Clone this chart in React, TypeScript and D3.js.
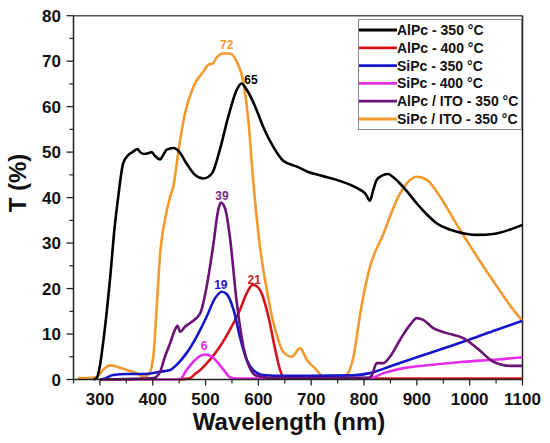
import { useEffect } from 'react'
import * as d3 from 'd3'

type Pt = [number, number]

// wavelength (nm), transmittance (%)
const alpc350: Pt[] = [
  [288, 0], [294, 0.3], [300, 3], [306, 8], [313, 15], [319, 21.9], [328, 33.6], [335, 40.5], [344, 47.5],
  [354, 49.4], [363, 50.1], [371, 50.7], [376, 50], [384, 49.6], [390, 49.7], [398, 50], [404, 49.2],
  [414, 48.4], [420, 49.4], [426, 50.5], [439, 50.9], [450, 50.1], [464, 47.5], [480, 45], [496, 44.2],
  [512, 45.3], [527, 50.5], [543, 57.8], [559, 63.7], [568, 65.1], [578, 63.7], [594, 60], [609, 55.6],
  [628, 51.2], [647, 48.1], [673, 46.8], [693, 45.7], [720, 44.8], [748, 43.9], [772, 42.9], [793, 41.7],
  [803, 40.8], [811, 39.3], [817, 41.5], [824, 43.9], [835, 44.9], [846, 45.2], [856, 44.4], [868, 43.1],
  [884, 41], [900, 38.7], [918, 36.4], [938, 34.3], [957, 33.2], [976, 32.5], [995, 32], [1014, 31.8],
  [1045, 32], [1077, 33], [1100, 34],
]
const alpc400: Pt[] = [
  [450, 0], [471, 0.3], [480, 1.2], [490, 2.1], [508, 4.3], [527, 7.2], [546, 10.9], [565, 15.3],
  [578, 19], [589, 20.8], [594, 20.7], [606, 19], [619, 13.8], [632, 6.5], [641, 2.1], [647, 0.6],
  [660, 0.2], [800, 0.2], [1100, 0.2],
]
const sipc350: Pt[] = [
  [300, 0], [306, 0.1], [325, 1], [351, 1.2], [382, 1.2], [414, 1.7], [433, 2.1], [445, 3.2],
  [464, 5.8], [483, 9.4], [502, 13.8], [518, 17.9], [531, 19.3], [540, 18.8], [553, 15.3], [565, 9.4],
  [578, 4.3], [590, 2.1], [609, 1], [650, 0.8], [700, 0.8], [780, 0.9], [811, 1.4], [850, 2.9],
  [900, 4.9], [957, 7.1], [1000, 8.8], [1050, 10.9], [1100, 12.9],
]
const sipc400: Pt[] = [
  [300, 0], [440, 0], [452, 0.1], [464, 2.1], [477, 3.9], [490, 5.2], [499, 5.5], [512, 5], [524, 3.6],
  [537, 1.7], [546, 0.5], [560, 0.2], [700, 0.2], [811, 0.3], [837, 1.4], [875, 2.5], [926, 3.2],
  [988, 3.9], [1052, 4.4], [1100, 4.9],
]
const alpcIto: Pt[] = [
  [300, 0], [380, 0.2], [401, 0.3], [414, 1.7], [423, 5], [433, 8], [442, 10.9], [447, 11.8],
  [452, 10.5], [461, 11.6], [474, 12.7], [490, 14.6], [502, 20.4], [515, 29.9], [524, 37.3], [529, 38.9],
  [537, 37.6], [546, 31.4], [559, 17], [572, 7], [584, 2.5], [597, 0.8], [620, 0.4], [700, 0.3],
  [810, 0.4], [815, 1], [824, 3.6], [837, 3.6], [849, 5], [868, 8.7], [887, 12], [900, 13.5],
  [912, 13.1], [931, 11.3], [957, 10.2], [988, 9.1], [1014, 6.9], [1045, 3.9], [1077, 3], [1100, 3],
]
const sipcIto: Pt[] = [
  [258, 0.3], [280, 0.3], [294, 0.6], [306, 2.1], [319, 3.1], [332, 2.8], [351, 2.1], [370, 1.4],
  [382, 0.6], [392, 1], [401, 5], [408, 16.8], [414, 27.7], [423, 35], [433, 40.2], [439, 42.5],
  [449, 50.5], [461, 58.5], [477, 64.4], [496, 67.7], [505, 69.2], [514, 69.5], [521, 70.8], [534, 71.7],
  [546, 71.7], [559, 69.9], [572, 65.1], [581, 57], [590, 44], [603, 29.2], [616, 19.7], [632, 10.9],
  [647, 6.1], [663, 5], [679, 6.9], [692, 4.3], [707, 2.5], [723, 0.6], [748, 0.3], [767, 1],
  [780, 5], [793, 14.6], [808, 23.4], [837, 32.1], [868, 40.9], [900, 44.6], [919, 43.9], [944, 40.2],
  [976, 34], [1014, 27], [1052, 20.4], [1083, 15.3], [1100, 12.9],
]

const seriesNames = [
  'AlPc - 350 °C',
  'AlPc - 400 °C',
  'SiPc - 350 °C',
  'SiPc - 400 °C',
  'AlPc / ITO - 350 °C',
  'SiPc / ITO - 350 °C',
]
const seriesData = [alpc350, alpc400, sipc350, sipc400, alpcIto, sipcIto]
const seriesColors = ['#000000', '#d3141c', '#1515cc', '#e62ce6', '#6a1276', '#f29a2e']
// draw order: last on top
const drawOrder = [5, 0, 1, 3, 2, 4]

// peak labels: text, wavelength, T, colour
const peakText = ['72', '65', '39', '19', '21', '6']
const peakPos: Pt[] = [[540, 72.6], [586, 65], [531, 39.5], [529, 20], [592, 21.1], [497, 6.4]]
const peakColors = ['#f29a2e', '#000000', '#7d2a8c', '#1515cc', '#c8232a', '#e62ce6']

const xMajor = [300, 400, 500, 600, 700, 800, 900, 1000, 1100]
const xMinor = [250, 350, 450, 550, 650, 750, 850, 950, 1050]
const yMajor = [0, 10, 20, 30, 40, 50, 60, 70, 80]
const yMinor = [5, 15, 25, 35, 45, 55, 65, 75]

const W = 550
const H = 443
const font = '"Liberation Sans", Arial, sans-serif'

export default function App() {
  useEffect(() => {
    document.body.style.margin = '0'
  }, [])

  const left = 73.5
  const right = 522.5
  const top = 15.7
  const bottom = 379.5
  const x = d3.scaleLinear().domain([250, 1100]).range([left, right])
  const y = d3.scaleLinear().domain([0, 80]).range([bottom, top])
  const line = d3
    .line<Pt>()
    .x((d) => x(d[0]))
    .y((d) => y(d[1]))
    .curve(d3.curveMonotoneX)

  return (
    <svg width={W} height={H} style={{ display: 'block', background: '#fff', fontFamily: font }}>
      {/* frame */}
      <line x1={left} x2={right} y1={top} y2={top} stroke="#555" strokeWidth={1.5} />
      <line x1={right} x2={right} y1={top} y2={bottom} stroke="#222" strokeWidth={1.5} />

      {/* curves */}
      {drawOrder.map((i) => (
        <path
          key={seriesNames[i]}
          d={line(seriesData[i]) || ''}
          fill="none"
          stroke={seriesColors[i]}
          strokeWidth={2.6}
          strokeLinejoin="round"
        />
      ))}

      {/* axes */}
      <line x1={left} x2={right} y1={bottom} y2={bottom} stroke="#222" strokeWidth={1.5} />
      <line x1={left} x2={left} y1={top} y2={bottom} stroke="#222" strokeWidth={1.5} />
      {xMajor.map((v) => (
        <g key={'xm' + v}>
          <line x1={x(v)} x2={x(v)} y1={bottom} y2={bottom + 6} stroke="#222" strokeWidth={1.3} />
          <text x={x(v)} y={405} textAnchor="middle" fontSize={17} fontWeight="bold" fill="#111">
            {v}
          </text>
        </g>
      ))}
      {xMinor.map((v) => (
        <line key={'xn' + v} x1={x(v)} x2={x(v)} y1={bottom} y2={bottom + 4} stroke="#222" strokeWidth={1.2} />
      ))}
      {yMajor.map((v) => (
        <g key={'ym' + v}>
          <line x1={left - 7} x2={left} y1={y(v)} y2={y(v)} stroke="#222" strokeWidth={1.3} />
          <text x={61} y={y(v) + 6} textAnchor="end" fontSize={17} fontWeight="bold" fill="#111">
            {v}
          </text>
        </g>
      ))}
      {yMinor.map((v) => (
        <line key={'yn' + v} x1={left - 4} x2={left} y1={y(v)} y2={y(v)} stroke="#222" strokeWidth={1.2} />
      ))}

      <text x={289} y={430} textAnchor="middle" fontSize={24} fontWeight="bold" fill="#111">
        Wavelength (nm)
      </text>
      <text
        transform={`translate(26,183) rotate(-90)`}
        textAnchor="middle"
        fontSize={24}
        fontWeight="bold"
        fill="#111"
      >
        T (%)
      </text>

      {/* peak labels */}
      {peakText.map((t, i) => (
        <text
          key={'pk' + i}
          x={x(peakPos[i][0])}
          y={y(peakPos[i][1])}
          textAnchor="middle"
          fontSize={12}
          fontWeight="bold"
          fill={peakColors[i]}
        >
          {t}
        </text>
      ))}

      {/* legend */}
      <rect x={358.5} y={19.5} width={163} height={110} fill="#fff" stroke="#888" strokeWidth={1} />
      {seriesNames.map((n, i) => {
        const cy = 30 + i * 17.8
        return (
          <g key={'lg' + n}>
            <line x1={359} x2={397} y1={cy} y2={cy} stroke={seriesColors[i]} strokeWidth={2.8} />
            <text x={397} y={cy + 5} fontSize={14} fontWeight="bold" fill="#111">
              {n}
            </text>
          </g>
        )
      })}
    </svg>
  )
}
